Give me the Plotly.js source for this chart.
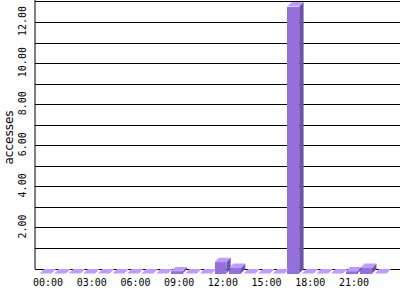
<!DOCTYPE html>
<html>
<head>
<meta charset="utf-8">
<script src="https://cdn.plot.ly/plotly-3.0.1.min.js"></script>
<style>html,body{margin:0;padding:0;background:#fff}#chart{width:400px;height:300px}</style>
</head>
<body>
<div id="chart"></div>
<script>
// Data
var hours = [0,1,2,3,4,5,6,7,8,9,10,11,12,13,14,15,16,17,18,19,20,21,22,23];
var accesses = [0,0,0,0,0,0,0,0,0,0.1,0,0,0.55,0.27,0,0,0,13,0,0,0,0.1,0.27,0];
var xTickVals = [0,3,6,9,12,15,18,21];
var xTickText = ["00:00","03:00","06:00","09:00","12:00","15:00","18:00","21:00"];
var yTickVals = [1,2,3,4,5,6,7,8,9,10,11,12,13];
var yTickText = ["","2.00","","4.00","","6.00","","8.00","","10.00","","12.00",""];

// 3D look parameters (in axis units)
var fL = -0.57, fR = 0.24;   // front face extents relative to hour
var dx = 0.30, dy = 0.22;    // depth offset

var topX = [], topY = [], sideX = [], sideY = [];
hours.forEach(function(h, i){
  var v = accesses[i];
  topX.push(h+fL, h+fR, h+fR+dx, h+fL+dx, h+fL, null);
  topY.push(v-dy, v-dy, v, v, v-dy, null);
  sideX.push(h+fR, h+fR+dx, h+fR+dx, h+fR, h+fR, null);
  sideY.push(-dy, 0, v, v-dy, -dy, null);
});

var traces = [
  {type:'bar', x:hours, y:accesses, base:-dy, width:fR-fL, offset:fL,
   marker:{color:'#9370DB', line:{width:0}}, hoverinfo:'skip', showlegend:false},
  {type:'scatter', mode:'lines', x:sideX, y:sideY, fill:'toself', fillcolor:'#6D51AE',
   line:{width:0, color:'#6D51AE'}, hoverinfo:'skip', showlegend:false},
  {type:'scatter', mode:'lines', x:topX, y:topY, fill:'toself', fillcolor:'#BF9CFF',
   line:{width:0, color:'#BF9CFF'}, hoverinfo:'skip', showlegend:false}
];

var layout = {
  width:400, height:300,
  margin:{l:35, r:0, t:0, b:25, pad:0},
  paper_bgcolor:'#fff', plot_bgcolor:'#fff',
  font:{family:'"DejaVu Sans Mono", monospace', size:10, color:'#000'},
  xaxis:{range:[-0.892, 24.157], tickvals:xTickVals, ticktext:xTickText,
         showgrid:false, zeroline:false, showline:false, ticks:'', automargin:false,
         tickfont:{family:'"DejaVu Sans Mono", monospace', size:10}},
  yaxis:{range:[-0.292, 13.097], tickvals:yTickVals, ticktext:yTickText,
         showgrid:true, gridcolor:'#000', gridwidth:1,
         zeroline:true, zerolinecolor:'#000', zerolinewidth:1,
         showline:false, ticks:'', tickangle:-90, automargin:false,
         ticklabelstandoff:6,
         tickfont:{family:'"DejaVu Sans Mono", monospace', size:10},
         title:{text:'accesses', standoff:0, font:{family:'"DejaVu Sans", sans-serif', size:12}}},
  shapes:[{type:'line', xref:'paper', x0:0, x1:0, yref:'y', y0:0, y1:13.097,
           line:{color:'#000', width:1}, layer:'above'}],
  bargap:0
};

Plotly.newPlot('chart', traces, layout, {staticPlot:true, displayModeBar:false});
</script>
</body>
</html>
